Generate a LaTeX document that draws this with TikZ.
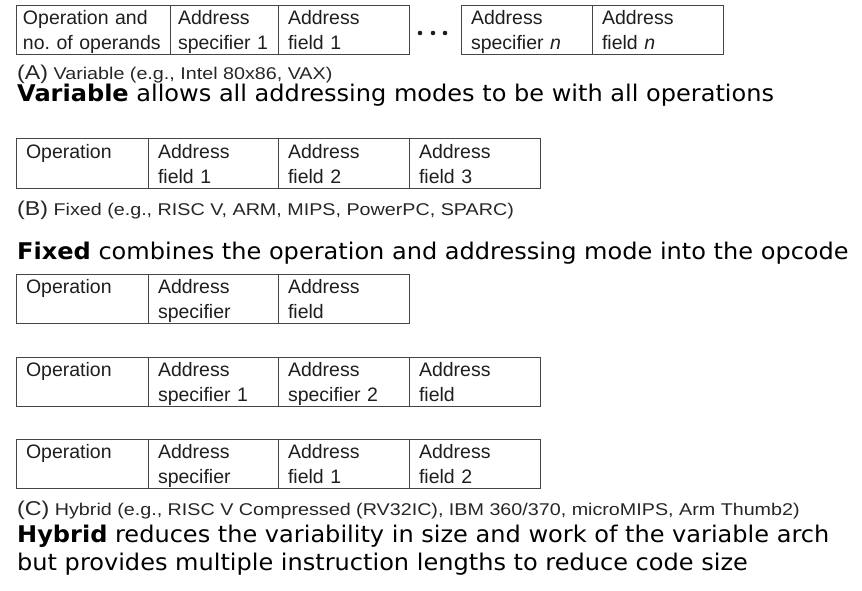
\documentclass[tikz,border=0pt]{standalone}
\usepackage{fontspec}
\setmainfont{Liberation Sans}
\newfontfamily\notefont{DejaVu Sans}

\definecolor{boxline}{HTML}{454545}
\definecolor{boxtext}{HTML}{1E1E1E}
\definecolor{captext}{HTML}{262626}

\tikzset{
  % one field of an instruction format; #1 = text width (box width minus 2 x inner xsep)
  fld/.style={draw=boxline, line width=1pt, rectangle, anchor=north west,
    outer sep=0pt, inner xsep=10pt, inner ysep=0pt,
    text width=#1, text height=19pt, text depth=30pt,
    align=left, text=boxtext, font=\fontsize{19.5}{25}\selectfont},
  fmtcaption/.style={anchor=base west, inner sep=0pt, text=captext,
    font=\fontsize{17}{20}\selectfont},
  note/.style={anchor=base west, inner sep=0pt, text=black,
    font=\notefont\fontsize{23}{28}\selectfont},
  ellipsisdot/.style={circle, fill=boxtext, inner sep=0pt, minimum size=4.6pt}
}
\newcommand{\capkey}[1]{{\fontsize{20}{20}\selectfont(#1)}}
\newcommand{\widenote}[1]{\scalebox{1.045}[1]{#1}}

\begin{document}
\begin{tikzpicture}[x=1pt, y=-1pt]
\useasboundingbox (0,0) rectangle (862,591);

% (A) variable format
\node[fld=140pt, inner xsep=7pt] (a1) at (16,6) {\mbox{Operation and}\\\mbox{no.\ of operands}};
\node[fld=92pt, inner xsep=8pt]  (a2) at (a1.north east) {Address\\\mbox{specifier 1}};
\node[fld=111pt] (a3) at (a2.north east) {Address\\field 1};
\node[ellipsisdot] (d1) at (420,33) {};
\node[ellipsisdot] (d2) at (433,33) {};
\node[ellipsisdot] (d3) at (445,33) {};
\node[fld=111pt] (an1) at (461,6) {Address\\specifier \textit{n}};
\node[fld=111pt] (an2) at (an1.north east) {Address\\field \textit{n}};
\node[fmtcaption] (capA) at (17,80) {\scalebox{1.16}[1]{\capkey{A} Variable (e.g., Intel 80x86, VAX)}};
\node[note] (noteA) at (17,102) {\widenote{\textbf{Variable} allows all addressing modes to be with all operations}};

% (B) fixed format
\node[fld=112pt] (b1) at (16,139) {Operation};
\node[fld=110pt] (b2) at (b1.north east) {Address\\field 1};
\node[fld=111pt] (b3) at (b2.north east) {Address\\field 2};
\node[fld=111pt] (b4) at (b3.north east) {Address\\field 3};
\node[fmtcaption] (capB) at (17,215) {\scalebox{1.16}[1]{\capkey{B} Fixed (e.g., RISC V, ARM, MIPS, PowerPC, SPARC)}};
\node[note] (noteB) at (17,259) {\widenote{\textbf{Fixed} combines the operation and addressing mode into the opcode}};

% (C) hybrid formats
\node[fld=112pt] (c1) at (16,274) {Operation};
\node[fld=110pt] (c2) at (c1.north east) {Address\\specifier};
\node[fld=111pt] (c3) at (c2.north east) {Address\\field};

\node[fld=112pt] (e1) at (16,357) {Operation};
\node[fld=110pt] (e2) at (e1.north east) {Address\\specifier 1};
\node[fld=111pt] (e3) at (e2.north east) {Address\\specifier 2};
\node[fld=111pt] (e4) at (e3.north east) {Address\\field};

\node[fld=112pt] (f1) at (16,439) {Operation};
\node[fld=110pt] (f2) at (f1.north east) {Address\\specifier};
\node[fld=111pt] (f3) at (f2.north east) {Address\\field 1};
\node[fld=111pt] (f4) at (f3.north east) {Address\\field 2};
\node[fmtcaption] (capC) at (17,515) {\scalebox{1.16}[1]{\capkey{C} Hybrid (e.g., RISC V Compressed (RV32IC), IBM 360/370, microMIPS, Arm Thumb2)}};
\node[note] (noteC1) at (17,542) {\widenote{\textbf{Hybrid} reduces the variability in size and work of the variable arch}};
\node[note] (noteC2) at (17,570) {\widenote{but provides multiple instruction lengths to reduce code size}};
\end{tikzpicture}
\end{document}
